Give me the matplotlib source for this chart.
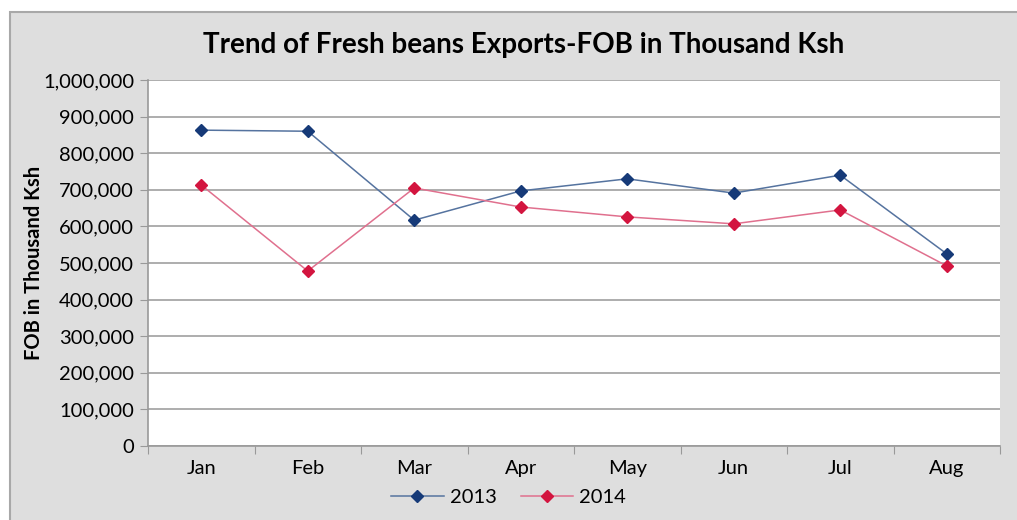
import matplotlib.pyplot as plt
import matplotlib.patches as mpatches
from matplotlib.ticker import FuncFormatter
import numpy as np

months = ['Jan', 'Feb', 'Mar', 'Apr', 'May', 'Jun', 'Jul', 'Aug']
fob_2013 = [863000, 860000, 617000, 697000, 730000, 691000, 740000, 525000]
fob_2014 = [713000, 478000, 705000, 653000, 626000, 607000, 645000, 492000]

plt.rcParams['font.family'] = ['Lato', 'DejaVu Sans']

fig = plt.figure(figsize=(10.17, 5.2), dpi=100)
fig.patch.set_facecolor('white')

# grey chart frame like the Excel chart area
frame = mpatches.Rectangle((10 / 1017, -0.01), 1.01, 1 - 12 / 520 + 0.01,
                           transform=fig.transFigure, facecolor='#dedede',
                           edgecolor='#a8a8a8', linewidth=1.5, zorder=-5)
fig.patches.append(frame)

ax = fig.add_axes([148 / 1017, 1 - 446 / 520, 852 / 1017, 366 / 520])
ax.set_facecolor('white')

x = np.arange(len(months)) + 0.5
ax.plot(x, fob_2013, color='#55739f', lw=1.1, marker='D', ms=6.5,
        mfc='#163a78', mec='#163a78', label='2013', zorder=3)
ax.plot(x, fob_2014, color='#e0708e', lw=1.1, marker='D', ms=6.5,
        mfc='#d3153f', mec='#d3153f', label='2014', zorder=3)

ax.set_xlim(0, len(months))
ax.set_ylim(0, 1000000)
ax.set_yticks(np.arange(0, 1000001, 100000))
ax.yaxis.set_major_formatter(FuncFormatter(lambda v, p: f'{int(v):,}'))
ax.set_xticks(np.arange(0, len(months) + 1))
ax.set_xticklabels([])
ax.set_xticks(x, minor=True)
ax.set_xticklabels(months, minor=True)
ax.tick_params(axis='x', which='minor', length=0, pad=10, labelsize=14.5)
ax.tick_params(axis='x', which='major', length=6, color='#999999', direction='out')
ax.tick_params(axis='y', length=6, color='#999999', labelsize=14.5, pad=4)

ax.grid(axis='y', color='#a0a0a0', lw=1.2)
ax.set_axisbelow(True)
for side in ['top', 'right']:
    ax.spines[side].set_visible(False)
ax.spines['left'].set_color('#999999')
ax.spines['bottom'].set_color('#999999')
ax.spines['left'].set_linewidth(1.2)
ax.spines['bottom'].set_linewidth(1.2)

ax.set_ylabel('FOB in Thousand Ksh', fontsize=14.5, fontweight='bold')
ax.yaxis.set_label_coords(-104 / 852, 0.5)
fig.text(0.515, 1 - 45 / 520, 'Trend of Fresh beans Exports-FOB in Thousand Ksh',
         ha='center', va='center', fontsize=20, fontweight='bold')

fig.legend(loc='center', bbox_to_anchor=(0.5, 1 - 497 / 520), ncol=2,
           frameon=False, fontsize=14.5, handlelength=2.6, columnspacing=1.2,
           handletextpad=0.3)

fig.savefig('out.png', dpi=100)
